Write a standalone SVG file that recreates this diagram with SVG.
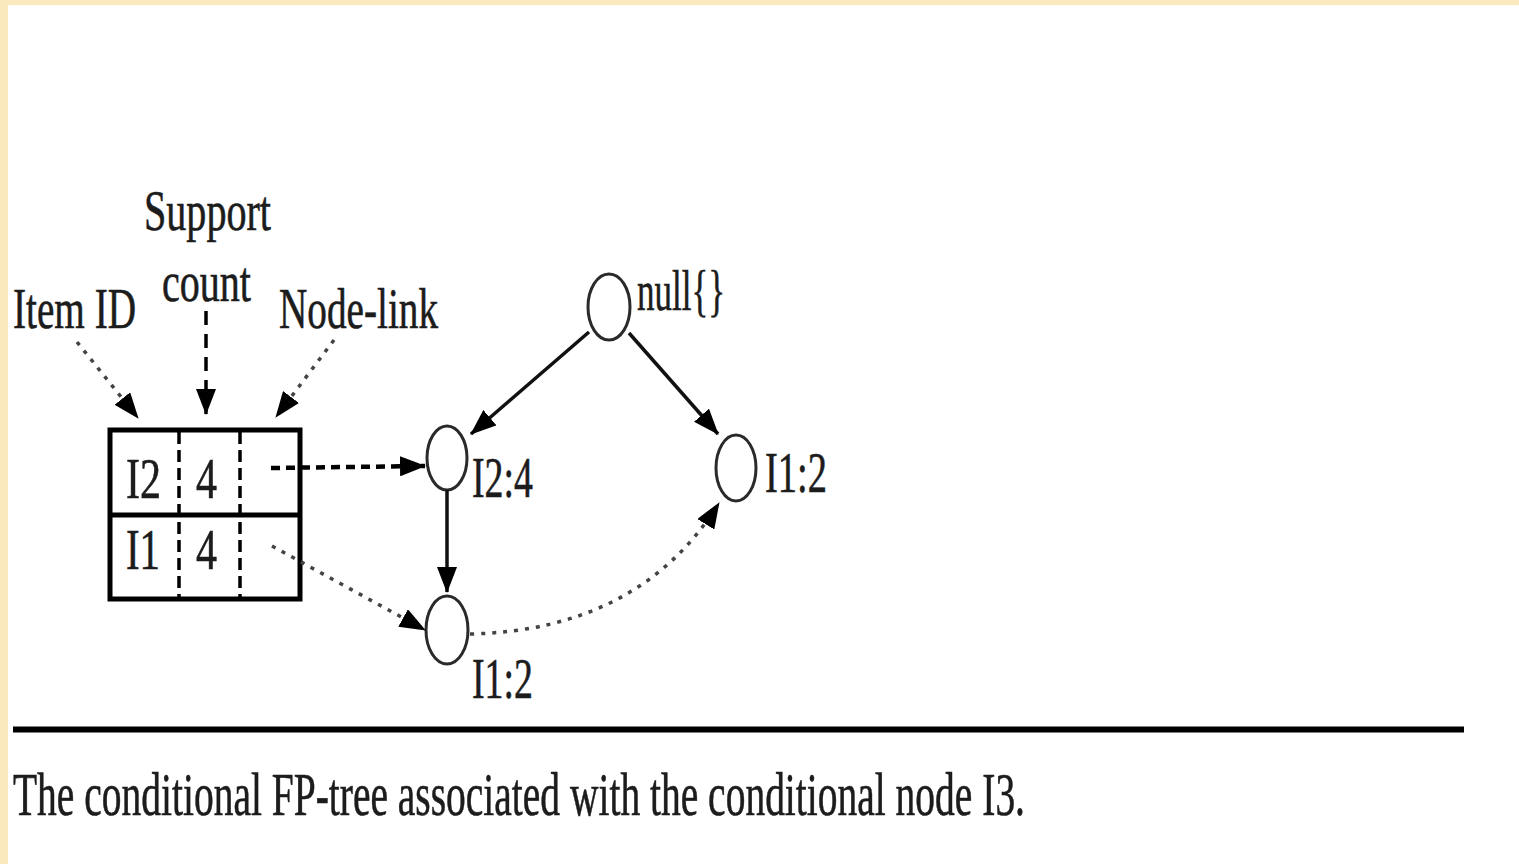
<svg xmlns="http://www.w3.org/2000/svg" width="1519" height="864" viewBox="0 0 1519 864">
  <style>
    .lbl { font-family: "Liberation Serif", "Times New Roman", serif; fill: #1c1c1c; font-size: 56px; stroke: #1c1c1c; stroke-width: 0.6; }
    .cap { font-family: "Liberation Serif", "Times New Roman", serif; fill: #1c1c1c; font-size: 62px; stroke: #1c1c1c; stroke-width: 0.6; }
    .node { fill: #ffffff; stroke: #2a2a2a; stroke-width: 3; }
    .solid { fill: none; stroke: #111; stroke-width: 3.5; }
    .dashed { fill: none; stroke: #000; stroke-width: 3.5; stroke-dasharray: 14 9; }
    .dashed-bold { fill: none; stroke: #000; stroke-width: 4.5; stroke-dasharray: 9 6; }
    .dotted { fill: none; stroke: #444; stroke-width: 3.5; stroke-dasharray: 4 7; }
    .cell-div { stroke: #000; stroke-width: 3.5; stroke-dasharray: 12 6; }
  </style>
  <defs>
    <marker id="arrow" markerUnits="userSpaceOnUse" viewBox="0 0 26 20" refX="25" refY="10" markerWidth="26" markerHeight="20" orient="auto">
      <path d="M0,0 L26,10 L0,20 z" fill="#000"/>
    </marker>
  </defs>

  <!-- page background with a cream frame along the top and left edges -->
  <rect x="0" y="0" width="1519" height="864" fill="#ffffff"/>
  <rect x="0" y="0" width="1519" height="5" fill="#f9e9bd"/>
  <rect x="0" y="0" width="8" height="864" fill="#f9e9bd"/>

  <!-- header table: item ID, support count, node-link -->
  <g id="header-table">
    <rect x="110" y="430" width="190" height="169" fill="none" stroke="#000" stroke-width="5"/>
    <line x1="110" y1="515" x2="300" y2="515" stroke="#000" stroke-width="5"/>
    <line class="cell-div" x1="179" y1="432" x2="179" y2="597"/>
    <line class="cell-div" x1="240" y1="432" x2="240" y2="597"/>
    <text class="lbl" x="126" y="498" textLength="35" lengthAdjust="spacingAndGlyphs">I2</text>
    <text class="lbl" x="196" y="498" textLength="21" lengthAdjust="spacingAndGlyphs">4</text>
    <text class="lbl" x="126" y="569" textLength="34" lengthAdjust="spacingAndGlyphs">I1</text>
    <text class="lbl" x="196" y="569" textLength="21" lengthAdjust="spacingAndGlyphs">4</text>
  </g>

  <!-- column labels -->
  <g id="label-item-id">
    <text class="lbl" x="13" y="328" textLength="123" lengthAdjust="spacingAndGlyphs">Item ID</text>
  </g>
  <g id="label-support-count">
    <text class="lbl" x="144" y="230" textLength="127" lengthAdjust="spacingAndGlyphs">Support</text>
    <text class="lbl" x="162" y="301" textLength="89" lengthAdjust="spacingAndGlyphs">count</text>
  </g>
  <g id="label-node-link">
    <text class="lbl" x="279" y="328" textLength="159" lengthAdjust="spacingAndGlyphs">Node-link</text>
  </g>

  <!-- tree nodes -->
  <g id="node-null">
    <ellipse class="node" cx="609" cy="307" rx="21" ry="33"/>
    <text class="lbl" x="637" y="310" textLength="88" lengthAdjust="spacingAndGlyphs">null{}</text>
  </g>
  <g id="node-i2-4">
    <ellipse class="node" cx="447" cy="458" rx="20" ry="32"/>
    <text class="lbl" x="472" y="497" textLength="61" lengthAdjust="spacingAndGlyphs">I2:4</text>
  </g>
  <g id="node-i1-2-right">
    <ellipse class="node" cx="736" cy="468" rx="20" ry="33"/>
    <text class="lbl" x="765" y="492" textLength="62" lengthAdjust="spacingAndGlyphs">I1:2</text>
  </g>
  <g id="node-i1-2-bottom">
    <ellipse class="node" cx="447" cy="630" rx="21" ry="34"/>
    <text class="lbl" x="472" y="698" textLength="61" lengthAdjust="spacingAndGlyphs">I1:2</text>
  </g>

  <!-- connectors -->
  <g id="connectors">
    <line class="dotted" x1="77" y1="342" x2="138" y2="418" marker-end="url(#arrow)"/>
    <line class="dashed" x1="206" y1="311" x2="206" y2="414" marker-end="url(#arrow)"/>
    <line class="dotted" x1="334" y1="340" x2="276" y2="417" marker-end="url(#arrow)"/>
    <line class="dashed-bold" x1="271" y1="468" x2="425" y2="466" marker-end="url(#arrow)"/>
    <line class="dotted" x1="272" y1="546" x2="425" y2="630" marker-end="url(#arrow)"/>
    <line class="solid" x1="589" y1="332" x2="471" y2="434" marker-end="url(#arrow)"/>
    <line class="solid" x1="629" y1="333" x2="718" y2="434" marker-end="url(#arrow)"/>
    <line class="solid" x1="447" y1="490" x2="447" y2="592" marker-end="url(#arrow)"/>
    <path class="dotted" d="M470,634 Q640,630 719,503" marker-end="url(#arrow)"/>
  </g>

  <!-- rule and caption -->
  <line x1="13" y1="729.5" x2="1464" y2="729.5" stroke="#000" stroke-width="6"/>
  <text class="cap" x="13" y="815" textLength="1012" lengthAdjust="spacingAndGlyphs">The conditional FP-tree associated with the conditional node I3.</text>
</svg>
